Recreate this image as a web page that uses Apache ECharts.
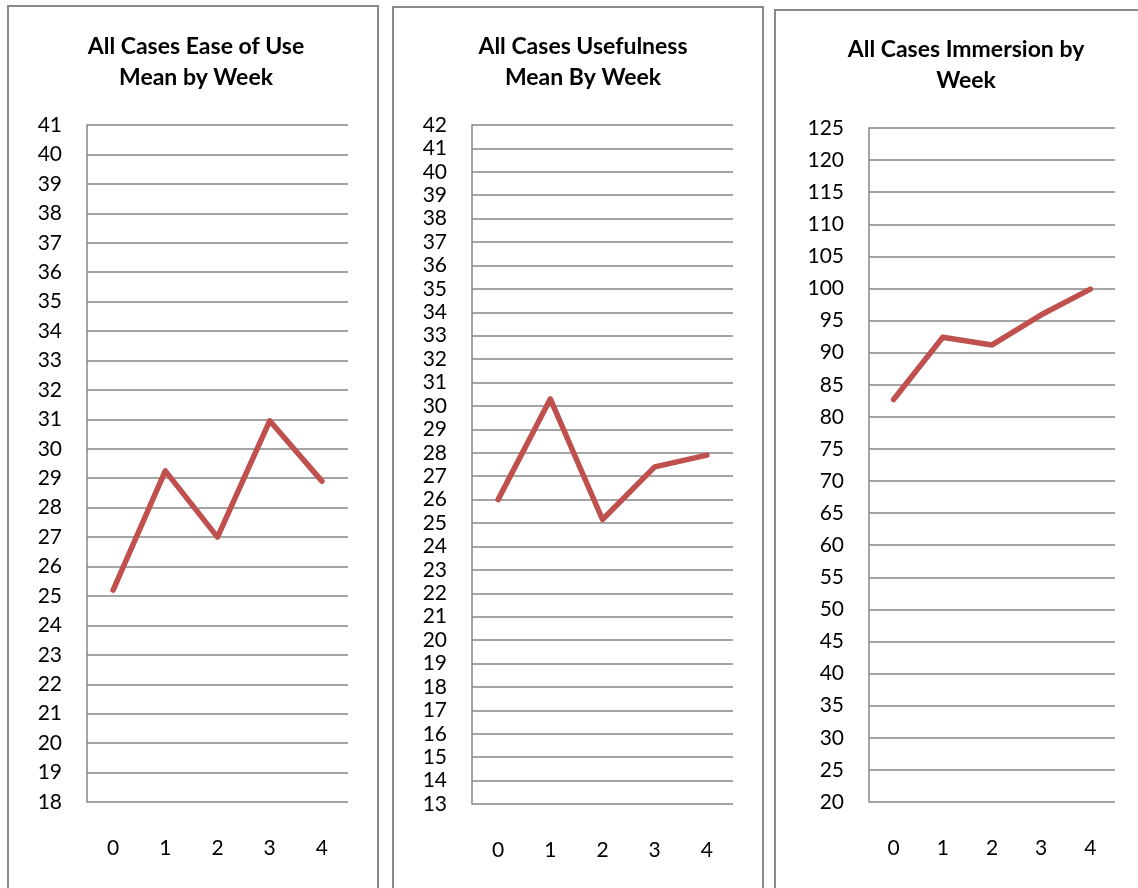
<!DOCTYPE html>
<html>
<head>
<meta charset="utf-8">
<script src="https://cdn.jsdelivr.net/npm/echarts@6/dist/echarts.min.js"></script>
<style>
html,body{margin:0;padding:0;background:#fff;}
#c{width:1138px;height:888px;}
</style>
</head>
<body>
<div id="c"></div>
<script>
const weeks = ['0','1','2','3','4'];
const easeOfUse = [25.2, 29.25, 27.0, 30.95, 28.9];
const usefulness = [26.0, 30.3, 25.15, 27.4, 27.9];
const immersion = [82.7, 92.4, 91.2, 95.9, 99.9];
const titles = ['All Cases Ease of Use\nMean by Week', 'All Cases Usefulness\nMean By Week', 'All Cases Immersion by\nWeek'];

const FONT = 'Lato';
const grey = '#868686';
const red = '#C0504D';

const grids = [
  {left: 87, top: 125, width: 261, height: 677},
  {left: 472, top: 125, width: 261, height: 679},
  {left: 869, top: 128, width: 246, height: 674}
];
const yRanges = [
  {min: 18, max: 41, interval: 1},
  {min: 13, max: 42, interval: 1},
  {min: 20, max: 125, interval: 5}
];
const seriesData = [easeOfUse, usefulness, immersion];
const titlePos = [{x: 191, y: 26}, {x: 578, y: 26}, {x: 961, y: 29}];
const panels = [
  {x: 8, y: 6, w: 370, h: 920},
  {x: 393, y: 7, w: 370, h: 920},
  {x: 775, y: 10, w: 400, h: 920}
];

const chart = echarts.init(document.getElementById('c'), null, {renderer: 'canvas'});
chart.setOption({
  backgroundColor: '#fff',
  animation: false,
  graphic: panels.map(p => ({
    type: 'rect', silent: true, z: -10,
    shape: {x: p.x, y: p.y, width: p.w, height: p.h},
    style: {fill: '#fff', stroke: '#8a8a8a', lineWidth: 2}
  })),
  title: titles.map((t, i) => ({
    text: t,
    left: titlePos[i].x,
    top: titlePos[i].y,
    textAlign: 'center',
    textStyle: {fontFamily: FONT, fontWeight: 'bold', fontSize: 23, lineHeight: 31, color: '#000'}
  })),
  grid: grids,
  xAxis: grids.map((g, i) => ({
    type: 'category', gridIndex: i, data: weeks, boundaryGap: true,
    axisLine: {show: false}, axisTick: {show: false},
    axisLabel: {fontFamily: FONT, fontSize: 21, color: '#000', margin: 36}
  })),
  yAxis: yRanges.map((r, i) => ({
    type: 'value', gridIndex: i, min: r.min, max: r.max, interval: r.interval,
    axisLine: {show: true, lineStyle: {color: grey, width: 1.5}},
    axisTick: {show: false},
    splitLine: {show: true, lineStyle: {color: grey, width: 1.5}},
    axisLabel: {fontFamily: FONT, fontSize: 21, color: '#000', margin: 25}
  })),
  series: seriesData.map((d, i) => ({
    type: 'line', xAxisIndex: i, yAxisIndex: i, data: d,
    showSymbol: false, symbol: 'none',
    lineStyle: {color: red, width: 5.5, cap: 'round', join: 'round'}
  }))
});
</script>
</body>
</html>
